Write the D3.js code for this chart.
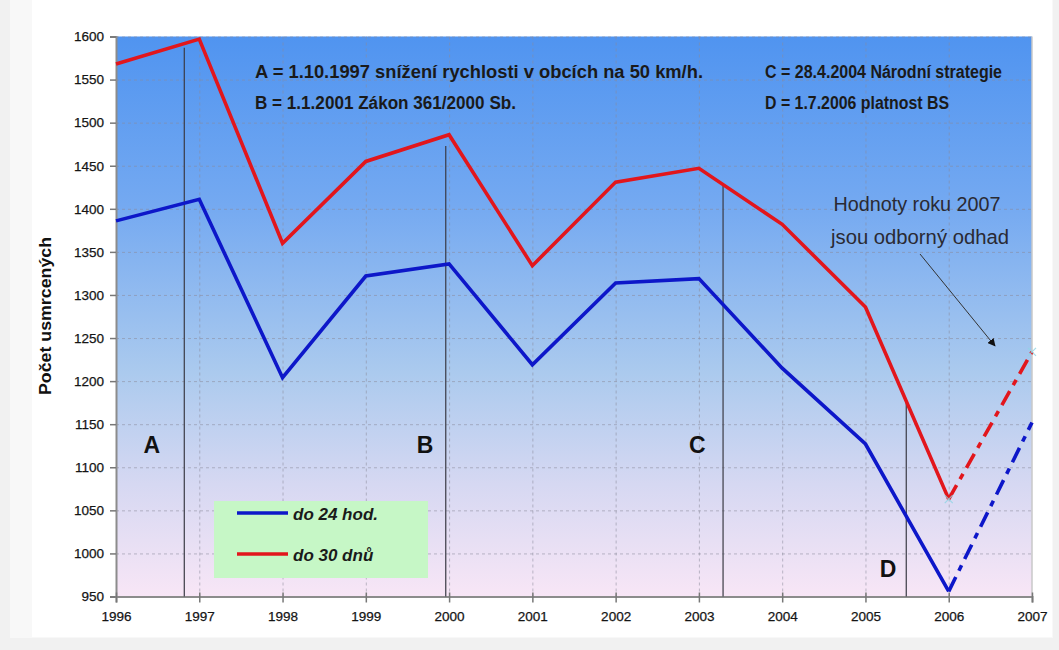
<!DOCTYPE html>
<html>
<head>
<meta charset="utf-8">
<script src="https://cdn.jsdelivr.net/npm/d3@7"></script>
<style>
  html, body { margin: 0; padding: 0; background: #f1f1f1; }
  svg { display: block; }
  text { font-family: "Liberation Sans", Arial, sans-serif; }
</style>
</head>
<body>
<svg id="chart" width="1059" height="650"></svg>
<script>
// Road fatalities in the Czech Republic, 1996–2007 (2007 = expert estimate)
const years = [1996, 1997, 1998, 1999, 2000, 2001, 2002, 2003, 2004, 2005, 2006, 2007];
const within24h = [1386, 1411, 1204, 1322, 1336, 1219, 1314, 1319, 1215, 1127, 956, 1152];
const within30d = [1568, 1597, 1360, 1455, 1486, 1334, 1431, 1447, 1382, 1286, 1063, 1234];
const estimateYear = 2007;

const yTicks = [950, 1000, 1050, 1100, 1150, 1200, 1250, 1300, 1350, 1400, 1450, 1500, 1550, 1600];
const xTicks = years;

// Policy milestones (marker position on the year axis, top of the marker line)
const eventKeys = ["A", "B", "C", "D"];
const eventX = [1996.82, 1999.96, 2003.29, 2005.49];
const eventTop = [1587, 1473, 1430, 1175];
const eventNotes = [
  "A = 1.10.1997 snížení rychlosti v obcích na 50 km/h.",
  "B = 1.1.2001 Zákon 361/2000 Sb.",
  "C = 28.4.2004 Národní strategie",
  "D = 1.7.2006 platnost BS"
];

const seriesNames = ["do 24 hod.", "do 30 dnů"];
const seriesColors = ["#0d17c9", "#e2161c"];

const svg = d3.select("#chart");
const W = 1059, H = 650;

// page frame
svg.append("rect").attr("x", 0).attr("y", 0).attr("width", W).attr("height", H).attr("fill", "#f1f1f1");
svg.append("rect").attr("x", 10).attr("y", 0).attr("width", 1043).attr("height", 638).attr("fill", "#f8f8f8");
svg.append("rect").attr("x", 32).attr("y", 0).attr("width", 1020).attr("height", 637).attr("fill", "#ffffff");

const x = d3.scaleLinear().domain([1996, 2007]).range([116, 1032]);
const y = d3.scaleLinear().domain([950, 1600]).range([596.5, 36.5]);

const defs = svg.append("defs");
const grad = defs.append("linearGradient").attr("id", "bg").attr("x1", 0).attr("y1", 0).attr("x2", 0).attr("y2", 1);
[[0, "#5094f0"], [0.3, "#74a9f1"], [0.6, "#abcaee"], [0.8, "#d6d8f2"], [1, "#f8e6f6"]]
  .forEach(([o, c]) => grad.append("stop").attr("offset", o).attr("stop-color", c));
defs.append("marker").attr("id", "arrow").attr("viewBox", "0 0 10 10")
  .attr("refX", 9).attr("refY", 5).attr("markerWidth", 8).attr("markerHeight", 8)
  .attr("orient", "auto").attr("markerUnits", "userSpaceOnUse")
  .append("path").attr("d", "M0,0 L10,5 L0,10 z").attr("fill", "#111");

// plot area
svg.append("rect")
  .attr("x", x(1996)).attr("y", y(1600))
  .attr("width", x(2007) - x(1996)).attr("height", y(950) - y(1600))
  .attr("fill", "url(#bg)");

// grid
const grid = svg.append("g").attr("stroke", "#8a8a9a").attr("stroke-opacity", 0.55)
  .attr("stroke-width", 1).attr("stroke-dasharray", "3,3");
grid.selectAll(".h").data(yTicks.slice(1)).join("line")
  .attr("x1", x(1996)).attr("x2", x(2007))
  .attr("y1", d => y(d) + 0.5).attr("y2", d => y(d) + 0.5);
grid.selectAll(".v").data(xTicks.slice(1, -1)).join("line")
  .attr("x1", d => x(d) + 0.5).attr("x2", d => x(d) + 0.5)
  .attr("y1", y(1600)).attr("y2", y(950));

// right edge of plot
svg.append("line").attr("x1", x(2007)).attr("x2", x(2007)).attr("y1", y(1600)).attr("y2", y(950))
  .attr("stroke", "#c8c8c8").attr("stroke-width", 1.5);

// axes
const yAxis = d3.axisLeft(y).tickValues(yTicks).tickSize(6).tickPadding(6).tickFormat(d3.format("d"));
const xAxis = d3.axisBottom(x).tickValues(xTicks).tickSize(6).tickPadding(9).tickFormat(d3.format("d"));
const gy = svg.append("g").attr("transform", `translate(${x(1996)},0)`).call(yAxis);
const gx = svg.append("g").attr("transform", `translate(0,${y(950)})`).call(xAxis);
[gy, gx].forEach(g => {
  g.select(".domain").attr("stroke", "#8c8c8c").attr("stroke-width", 2);
  g.selectAll(".tick line").attr("stroke", "#777").attr("stroke-width", 1.5);
  g.selectAll(".tick text").attr("fill", "#151515").attr("font-size", 13.5)
    .attr("stroke", "#151515").attr("stroke-width", 0.25)
    .attr("font-family", "'Liberation Sans', Arial, sans-serif");
});
gx.selectAll(".tick line").attr("y1", -4).attr("y2", 6);

// y axis title
svg.append("text")
  .attr("transform", `translate(51,316) rotate(-90)`)
  .attr("text-anchor", "middle")
  .attr("textLength", 158).attr("lengthAdjust", "spacingAndGlyphs")
  .attr("font-size", 16).attr("font-weight", "bold").attr("fill", "#111")
  .text("Počet usmrcených");

// milestone marker lines
svg.append("g").selectAll("line").data(eventKeys).join("line")
  .attr("x1", (d, i) => x(eventX[i])).attr("x2", (d, i) => x(eventX[i]))
  .attr("y1", (d, i) => y(eventTop[i])).attr("y2", y(950))
  .attr("stroke", "#3a3a44").attr("stroke-width", 1.2);

// milestone letters
const letterPos = [[1996.43, 1116], [1999.71, 1116], [2002.98, 1116], [2005.27, 973]];
svg.append("g").selectAll("text").data(eventKeys).join("text")
  .attr("x", (d, i) => x(letterPos[i][0])).attr("y", (d, i) => y(letterPos[i][1]))
  .attr("text-anchor", "middle").attr("font-size", 23).attr("font-weight", "bold").attr("fill", "#111")
  .text(d => d);

// milestone notes
const notePos = [[255, 78, 448], [255, 109, 261], [765, 78, 237], [765, 109, 184]];
svg.append("g").selectAll("text").data(eventNotes).join("text")
  .attr("x", (d, i) => notePos[i][0]).attr("y", (d, i) => notePos[i][1])
  .attr("textLength", (d, i) => notePos[i][2]).attr("lengthAdjust", "spacingAndGlyphs")
  .attr("font-size", 18).attr("font-weight", "bold").attr("fill", "#1a1a1a")
  .text(d => d);

// series lines: measured years solid, estimated year dashed
const series = [within24h, within30d];
const line = d3.line().x(d => x(d[0])).y(d => y(d[1]));
series.forEach((vals, si) => {
  const pts = years.map((yr, i) => [yr, vals[i]]);
  const measured = pts.filter(p => p[0] < estimateYear);
  const est = pts.filter(p => p[0] >= estimateYear - 1);
  svg.append("path").attr("d", line(measured)).attr("fill", "none")
    .attr("stroke", seriesColors[si]).attr("stroke-width", 3.6)
    .attr("stroke-linejoin", "miter");
  svg.append("path").attr("d", line(est)).attr("fill", "none")
    .attr("stroke", seriesColors[si]).attr("stroke-width", 3.6)
    .attr("stroke-dasharray", "16,7,6,7");
});

// small point markers on the 30-day series endpoints
[estimateYear - 1, estimateYear].forEach(yr => {
  const i = years.indexOf(yr);
  const cx = x(yr), cy = y(within30d[i]);
  svg.append("path").attr("d", `M${cx - 4},${cy - 4}L${cx + 4},${cy + 4}M${cx - 4},${cy + 4}L${cx + 4},${cy - 4}`)
    .attr("stroke", "#8fd6e6").attr("stroke-width", 1.2).attr("opacity", 0.8);
});

// estimate note with arrow
const note = svg.append("g").attr("font-size", 20).attr("fill", "#2a2a33").attr("text-anchor", "middle")
  .attr("lengthAdjust", "spacingAndGlyphs");
note.append("text").attr("x", 917).attr("y", 211).attr("textLength", 167).attr("lengthAdjust", "spacingAndGlyphs")
  .text("Hodnoty roku 2007");
note.append("text").attr("x", 920).attr("y", 244).attr("textLength", 178).attr("lengthAdjust", "spacingAndGlyphs")
  .text("jsou odborný odhad");
svg.append("line").attr("x1", 920).attr("y1", 254).attr("x2", 995).attr("y2", 346)
  .attr("stroke", "#333").attr("stroke-width", 1).attr("marker-end", "url(#arrow)");

// legend
const lg = svg.append("g");
lg.append("rect").attr("x", 214).attr("y", 501).attr("width", 214).attr("height", 77).attr("fill", "#c6f7c6");
seriesNames.forEach((name, i) => {
  const ly = [513, 554][i];
  lg.append("line").attr("x1", 237).attr("x2", 288).attr("y1", ly).attr("y2", ly)
    .attr("stroke", seriesColors[i]).attr("stroke-width", 3.6);
  lg.append("text").attr("x", 293).attr("y", ly + 7)
    .attr("font-size", 17).attr("font-weight", "bold").attr("font-style", "italic").attr("fill", "#1a1a1a")
    .text(name);
});
</script>
</body>
</html>
